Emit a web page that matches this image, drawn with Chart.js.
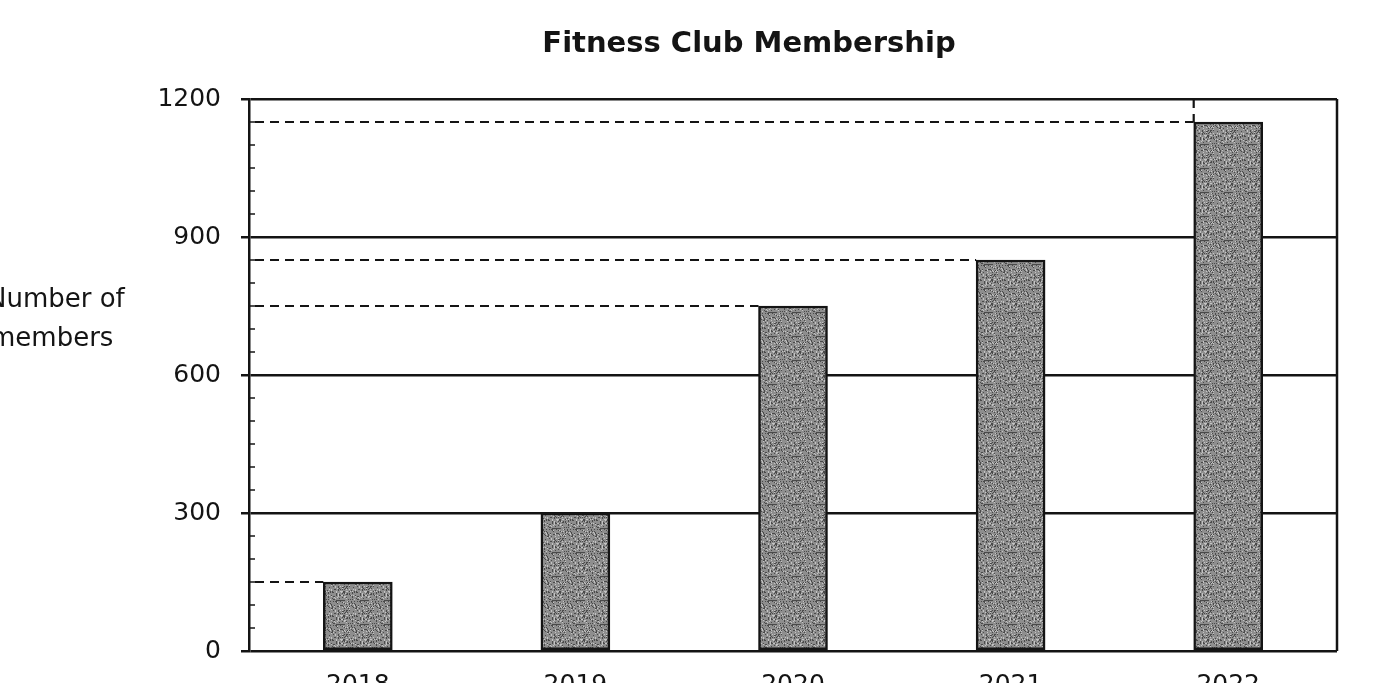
<!DOCTYPE html>
<html>
<head>
<meta charset="utf-8">
<title>Fitness Club Membership</title>
<script src="https://cdn.jsdelivr.net/npm/chart.js@4/dist/chart.umd.min.js"></script>
<style>
    html, body { margin: 0; padding: 0; background: #fff; overflow: hidden; }
    #wrap { width: 1395px; height: 683px; overflow: hidden; }
</style>
</head>
<body>
<div id="wrap"><canvas id="membershipChart" width="1395" height="720"></canvas></div>
<script>
// Chart data
const years = ['2018', '2019', '2020', '2021', '2022'];
const members = [150, 300, 750, 850, 1150];
// dashed reading lines: value and the bar they lead to
const guideValues = [150, 750, 850, 1150];
const guideBars = [0, 2, 3, 4];
const yMax = 1200;
const majorStep = 300;
const minorStep = 50;

const chartTitle = 'Fitness Club Membership';
const axisTitle = ['Number of', 'members'];

const ink = '#141414';

// Speckled grey fill, like the printed bars
function makeSpeckle() {
    const c = document.createElement('canvas');
    c.width = 24;
    c.height = 24;
    const g = c.getContext('2d');
    g.fillStyle = '#8e8e8e';
    g.fillRect(0, 0, 24, 24);
    for (let py = 0; py < 24; py++) {
        for (let px = 0; px < 24; px++) {
            const h = ((px * 73856093) ^ (py * 19349663)) % 97;
            if (h < 18) {
                g.fillStyle = '#4a4a4a';
                g.fillRect(px, py, 1, 1);
            } else if (h > 86) {
                g.fillStyle = '#c4c4c4';
                g.fillRect(px, py, 1, 1);
            }
        }
    }
    return g.createPattern(c, 'repeat');
}

// Frame, dashed guides, minor ticks and texts
const extrasPlugin = {
    id: 'extras',
    afterDraw(chart) {
        const ctx = chart.ctx;
        const area = chart.chartArea;
        const y = chart.scales.y;
        const meta = chart.getDatasetMeta(0);

        ctx.save();

        // right border
        ctx.strokeStyle = ink;
        ctx.lineWidth = 2.5;
        ctx.beginPath();
        ctx.moveTo(area.right, area.top);
        ctx.lineTo(area.right, area.bottom);
        ctx.stroke();

        // minor ticks inside the axis
        ctx.lineWidth = 1.5;
        y.ticks.forEach(t => {
            if (t.value % majorStep !== 0) {
                const py = y.getPixelForValue(t.value);
                ctx.beginPath();
                ctx.moveTo(area.left, py);
                ctx.lineTo(area.left + 6, py);
                ctx.stroke();
            }
        });

        // dashed guides from axis to bar
        ctx.setLineDash([9, 6]);
        ctx.lineWidth = 2.2;
        guideValues.forEach((v, i) => {
            const bar = meta.data[guideBars[i]];
            const left = bar.x - bar.width / 2;
            const py = y.getPixelForValue(v);
            ctx.beginPath();
            ctx.moveTo(area.left + 6, py);
            ctx.lineTo(left, py);
            ctx.stroke();
        });
        // short vertical dash above the last bar
        const last = meta.data[guideBars[guideBars.length - 1]];
        ctx.beginPath();
        ctx.moveTo(last.x - last.width / 2, y.getPixelForValue(yMax));
        ctx.lineTo(last.x - last.width / 2, y.getPixelForValue(guideValues[guideValues.length - 1]));
        ctx.stroke();
        ctx.setLineDash([]);

        // title
        ctx.fillStyle = ink;
        ctx.font = 'bold 29px "DejaVu Sans"';
        ctx.textAlign = 'center';
        ctx.textBaseline = 'alphabetic';
        ctx.fillText(chartTitle, 749, 52);

        // y axis title (horizontal, running off the left edge)
        ctx.font = '26px "DejaVu Sans"';
        ctx.textAlign = 'left';
        ctx.fillText(axisTitle[0], -13, 307);
        ctx.fillText(axisTitle[1], -10, 346);

        ctx.restore();
    }
};

const ctx = document.getElementById('membershipChart').getContext('2d');
new Chart(ctx, {
    type: 'bar',
    data: {
        labels: years,
        datasets: [{
            label: 'Members',
            data: members,
            backgroundColor: makeSpeckle(),
            borderColor: ink,
            borderWidth: 2.5,
            borderSkipped: false,
            barThickness: 69
        }]
    },
    options: {
        responsive: false,
        animation: false,
        layout: {
            padding: { top: 99, right: 58, left: 0, bottom: 0 }
        },
        plugins: {
            legend: { display: false },
            title: { display: false },
            tooltip: { enabled: false }
        },
        scales: {
            x: {
                grid: { display: false },
                border: { display: false },
                ticks: {
                    color: ink,
                    font: { family: 'DejaVu Sans', size: 25 },
                    padding: 11
                },
                afterFit(scale) { scale.height = 69; }
            },
            y: {
                min: 0,
                max: yMax,
                ticks: {
                    stepSize: minorStep,
                    autoSkip: false,
                    color: ink,
                    font: { family: 'DejaVu Sans', size: 25 },
                    padding: 20,
                    callback: v => (v % majorStep === 0 ? v : '')
                },
                grid: {
                    color: c => (c.tick && c.tick.value % majorStep === 0 ? ink : 'rgba(0,0,0,0)'),
                    lineWidth: 2.5,
                    tickLength: 8,
                    tickColor: c => (c.tick && c.tick.value % majorStep === 0 ? ink : 'rgba(0,0,0,0)')
                },
                border: { display: true, color: ink, width: 2.5 },
                afterFit(scale) { scale.width = 249; }
            }
        }
    },
    plugins: [extrasPlugin]
});
</script>
</body>
</html>
